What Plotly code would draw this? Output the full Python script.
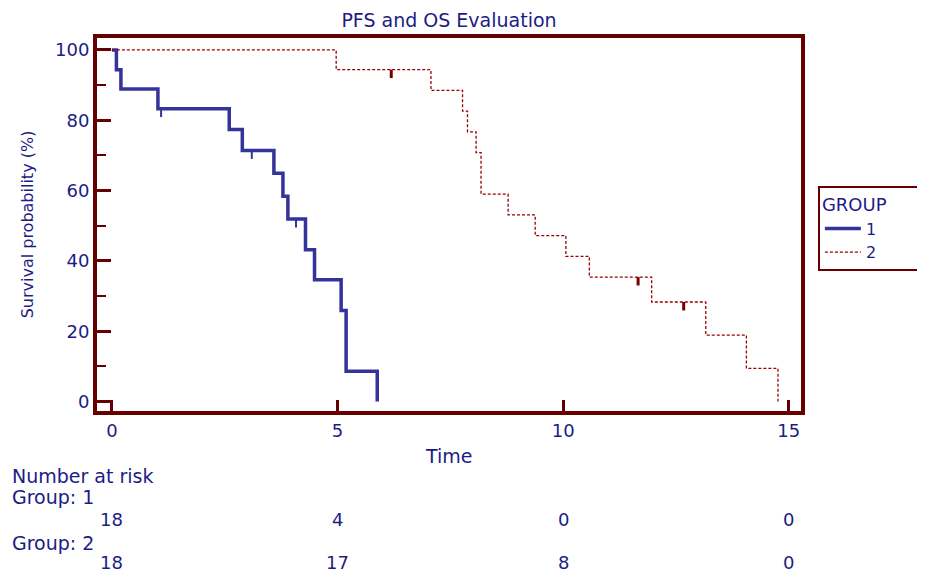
import plotly.graph_objects as go

# ---- data ----
g1_time = [0, 0.10, 0.20, 1.02, 2.60, 2.89, 3.59, 3.79, 3.90, 4.29, 4.49, 5.08, 5.19, 5.88]
g1_surv = [100, 94.4, 88.9, 83.3, 77.4, 71.4, 64.9, 58.4, 51.9, 43.2, 34.6, 25.9, 8.6, 0]
g1_cens_time = [1.09, 3.10, 4.08]
g1_cens_surv = [83.3, 71.4, 51.9]

g2_time = [0, 4.97, 7.07, 7.77, 7.88, 8.07, 8.18, 8.78, 9.38, 10.06, 10.58, 11.96, 13.16, 14.06, 14.76]
g2_surv = [100, 94.4, 88.5, 82.6, 76.7, 70.8, 59.0, 53.1, 47.2, 41.3, 35.4, 28.3, 18.9, 9.4, 0]
g2_cens_time = [6.19, 11.66, 12.67]
g2_cens_surv = [94.4, 35.4, 28.3]

risk_times = [0, 5, 10, 15]
at_risk_g1 = [18, 4, 0, 0]
at_risk_g2 = [18, 17, 8, 0]

x_ticks = [0, 5, 10, 15]
y_ticks = [0, 20, 40, 60, 80, 100]

# ---- styles ----
TXT = "#1c1c85"
FRAME = "#660000"
BLUE = "#333399"
RED = "#990000"
CENS_RED = "#7a0000"
FONT = "DejaVu Sans, Verdana, sans-serif"
CENS_LEN = 2.4


def cens_segments(ts, vs):
    xs, ys = [], []
    for t, v in zip(ts, vs):
        xs += [t, t, None]
        ys += [v, v - CENS_LEN, None]
    return xs, ys


fig = go.Figure()

fig.add_trace(go.Scatter(x=g1_time, y=g1_surv, mode="lines", line_shape="hv",
                         line=dict(color=BLUE, width=3.5), name="1"))
fig.add_trace(go.Scatter(x=g2_time, y=g2_surv, mode="lines", line_shape="hv",
                         line=dict(color=RED, width=1.3, dash="3px,2px"), name="2"))

cx, cy = cens_segments(g1_cens_time, g1_cens_surv)
fig.add_trace(go.Scatter(x=cx, y=cy, mode="lines", line=dict(color=BLUE, width=2),
                         showlegend=False, hoverinfo="skip"))
cx, cy = cens_segments(g2_cens_time, g2_cens_surv)
fig.add_trace(go.Scatter(x=cx, y=cy, mode="lines", line=dict(color=CENS_RED, width=3),
                         showlegend=False, hoverinfo="skip"))

# number at risk table
ann = []
row_y = [-0.292, -0.405]
for vals, yy in zip([at_risk_g1, at_risk_g2], row_y):
    for t, n in zip(risk_times, vals):
        ann.append(dict(x=t, y=yy, xref="x", yref="paper", text=str(n), showarrow=False,
                        xanchor="center", yanchor="middle", font=dict(size=18, color=TXT, family=FONT)))
for txt, yy in [("Number at risk", -0.174), ("Group: 1", -0.231), ("Group: 2", -0.355)]:
    ann.append(dict(x=-0.1236, y=yy, xref="paper", yref="paper", text=txt, showarrow=False,
                    xanchor="left", yanchor="middle", font=dict(size=19, color=TXT, family=FONT)))
ann.append(dict(x=0.5, y=-0.121, xref="paper", yref="paper", text="Time", showarrow=False,
                xanchor="center", yanchor="middle", font=dict(size=19, color=TXT, family=FONT)))

fig.update_layout(
    width=917, height=564,
    margin=dict(l=89, r=124, t=30, b=161, autoexpand=False),
    paper_bgcolor="white", plot_bgcolor="white",
    font=dict(family=FONT, color=TXT, size=18),
    title=dict(text="PFS and OS Evaluation", x=0.5, xref="paper", xanchor="center",
               y=1 - 12 / 564, yanchor="middle", font=dict(size=19, color=TXT, family=FONT)),
    xaxis=dict(range=[-0.33, 15.27], tickvals=x_ticks, ticks="inside", ticklen=11, tickwidth=3,
               tickcolor=FRAME, showline=True, linewidth=4, linecolor=FRAME, mirror=True,
               showgrid=False, zeroline=False, tickfont=dict(size=18, color=TXT, family=FONT)),
    yaxis=dict(range=[-2.7, 103.4], tickvals=y_ticks, ticks="inside", ticklen=14, tickwidth=3,
               tickcolor=FRAME, showline=True, linewidth=4, linecolor=FRAME, mirror=True,
               showgrid=False, zeroline=False, tickfont=dict(size=18, color=TXT, family=FONT),
               minor=dict(ticks="inside", dtick=10, ticklen=9, tickwidth=2, tickcolor=FRAME,
                          showgrid=False),
               title=dict(text="Survival probability (%)",
                          font=dict(size=16, color=TXT, family=FONT), standoff=18)),
    legend=dict(x=1.024, y=0.603, xanchor="left", yanchor="top", bordercolor=FRAME, borderwidth=2,
                bgcolor="white",
                title=dict(text="GROUP" + "\u00a0" * 6,
                           font=dict(size=18, color=TXT, family=FONT)),
                font=dict(size=16, color=TXT, family=FONT), itemwidth=36, tracegroupgap=0),
    annotations=ann,
    showlegend=True,
)

fig.write_html("out.html")
